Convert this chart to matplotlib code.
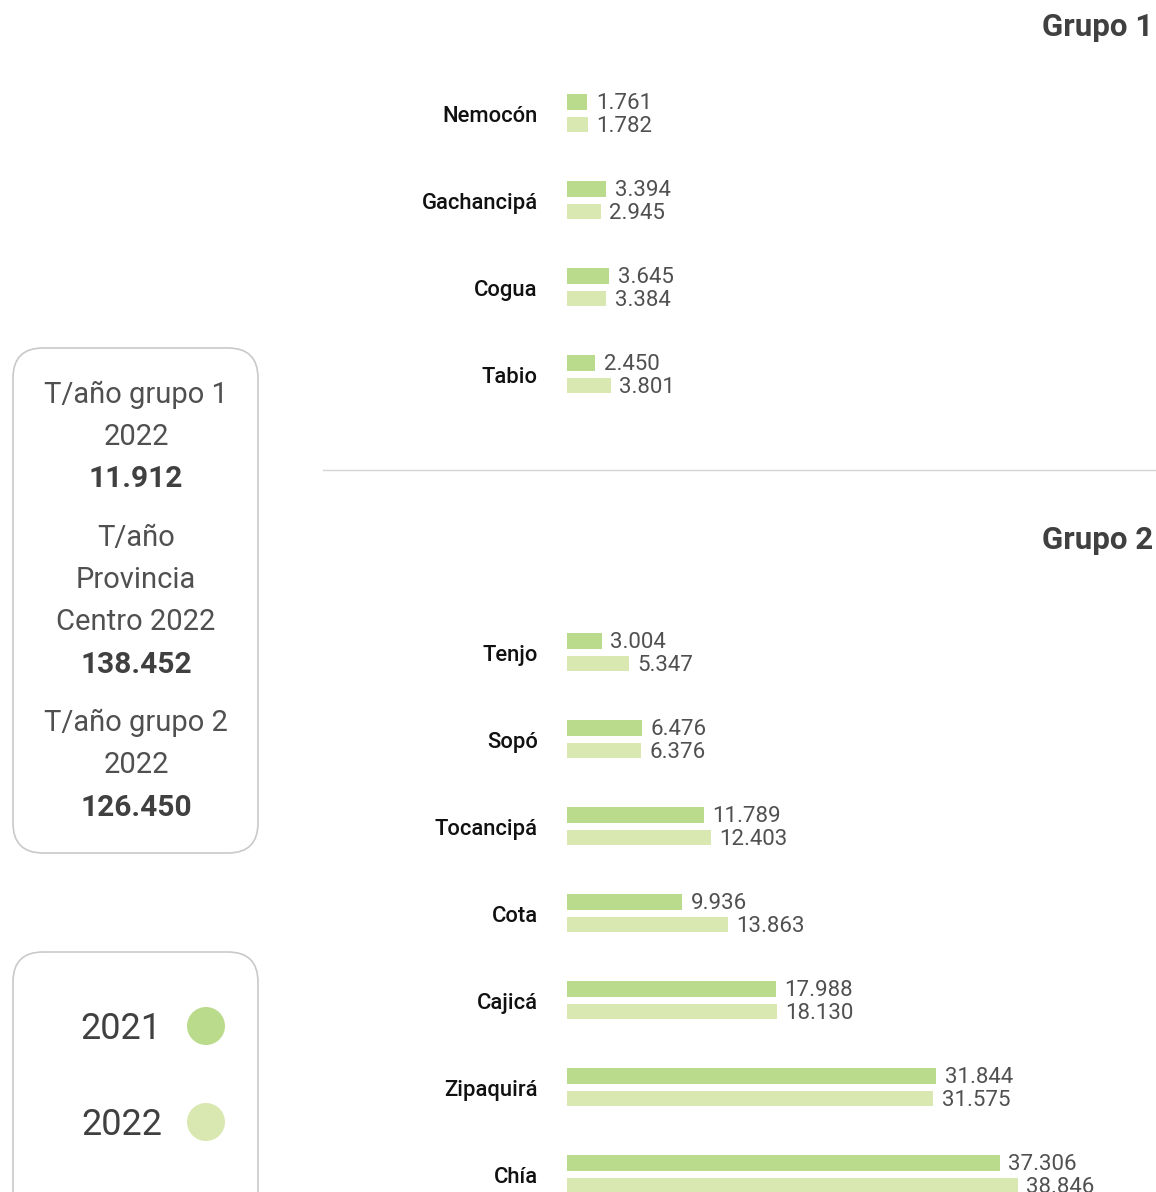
import matplotlib
matplotlib.use("Agg")
import matplotlib.pyplot as plt
from matplotlib.patches import FancyBboxPatch, Circle
import numpy as np

# ---------------- data ----------------
grupo1_names = ["Nemocón", "Gachancipá", "Cogua", "Tabio"]
grupo1_2021 = [1761, 3394, 3645, 2450]
grupo1_2022 = [1782, 2945, 3384, 3801]

grupo2_names = ["Tenjo", "Sopó", "Tocancipá", "Cota", "Cajicá", "Zipaquirá", "Chía"]
grupo2_2021 = [3004, 6476, 11789, 9936, 17988, 31844, 37306]
grupo2_2022 = [5347, 6376, 12403, 13863, 18130, 31575, 38846]

summary_lines = [("T/año grupo 1", False), ("2022", False), ("11.912", True),
                 ("T/año", False), ("Provincia", False), ("Centro 2022", False), ("138.452", True),
                 ("T/año grupo 2", False), ("2022", False), ("126.450", True)]
legend_years = ["2021", "2022"]

# ---------------- style ----------------
C21 = "#badb8b"
C22 = "#d9e8b1"
DARK = "#404040"
VAL = "#505050"
FONT = ["Roboto", "DejaVu Sans"]
plt.rcParams["font.family"] = FONT

W, H = 1156, 1192
fig = plt.figure(figsize=(W / 100, H / 100), dpi=100)

def fx(px):
    return px / W

def fy(py):
    return 1 - py / H

STEP = 87.0          # px between categories
X0 = 567             # px, bar origin
PXPERUNIT = 0.0116   # px per tonne
BAR_H = 15.5 / STEP
OFF = 11.25 / STEP

def make_group(names, v21, v22, top_px, bottom_px, first_center_px):
    ax = fig.add_axes([fx(X0), fy(bottom_px), fx(W - X0), (bottom_px - top_px) / H])
    ax.set_xlim(0, (W - X0) / PXPERUNIT)
    ax.set_ylim((bottom_px - first_center_px) / STEP, (top_px - first_center_px) / STEP)
    y = np.arange(len(names))
    b1 = ax.barh(y - OFF, v21, height=BAR_H, color=C21)
    b2 = ax.barh(y + OFF, v22, height=BAR_H, color=C22)
    for bars, vals in ((b1, v21), (b2, v22)):
        for rect, v in zip(bars, vals):
            ax.annotate(f"{v:,}".replace(",", "."),
                        (v, rect.get_y() + rect.get_height() / 2),
                        xytext=(6, -1.5), textcoords="offset points",
                        ha="left", va="center", fontsize=16, color=VAL,
                        fontweight="normal", annotation_clip=False)
    # category labels (left of the bars)
    for yi, name in zip(y, names):
        ax.annotate(name, (0, yi), xycoords=("axes fraction", "data"),
                    xytext=(-21, -2.2), textcoords="offset points",
                    ha="right", va="center", fontsize=15.8, fontweight="medium",
                    color="#111111", annotation_clip=False)
    ax.set_yticks([])
    ax.set_xticks([])
    for s in ax.spines.values():
        s.set_visible(False)
    ax.patch.set_alpha(0)
    return ax

make_group(grupo1_names, grupo1_2021, grupo1_2022, 60, 430, 113)
make_group(grupo2_names, grupo2_2021, grupo2_2022, 590, 1192, 652)

# titles
fig.text(fx(1153), fy(27), "Grupo 1", ha="right", va="center", fontsize=22.5,
         fontweight="bold", color=DARK)
fig.text(fx(1153), fy(540), "Grupo 2", ha="right", va="center", fontsize=22.5,
         fontweight="bold", color=DARK)

# divider
fig.add_artist(plt.Line2D([fx(323), fx(1156)], [fy(470), fy(470)], color="#d4d4d4", lw=1))

# background axes in pixel coordinates for boxes
bg = fig.add_axes([0, 0, 1, 1], zorder=-1)
bg.set_xlim(0, W)
bg.set_ylim(H, 0)
bg.axis("off")
for (x0, y0, x1, y1) in [(13, 348, 258, 853), (13, 952, 258, 1230)]:
    bg.add_patch(FancyBboxPatch((x0, y0), x1 - x0, y1 - y0,
                                boxstyle="round,pad=0,rounding_size=30",
                                fc="white", ec="#c9c9c9", lw=1.2))

ys = [395, 437, 479, 538, 580, 622, 665, 723, 765, 808]
for (txt, bold), yy in zip(summary_lines, ys):
    bg.text(136, yy, txt, ha="center", va="center",
            fontsize=21 if not bold else 21.5,
            fontweight="bold" if bold else "normal",
            color=DARK if bold else VAL)

# legend
for yr, col, yy in zip(legend_years, [C21, C22], [1029, 1125]):
    bg.text(162, yy, yr, ha="right", va="center", fontsize=26, fontweight="normal", color=DARK)
    bg.add_patch(Circle((206, yy - 3), 19, fc=col, ec="none"))

fig.savefig("out.png", dpi=100, facecolor="white")
